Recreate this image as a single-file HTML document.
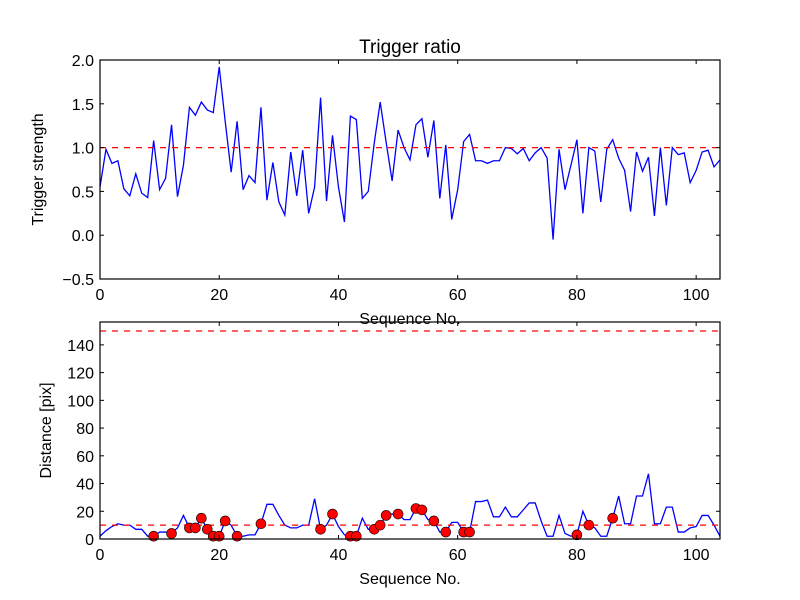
<!DOCTYPE html>
<html><head><meta charset="utf-8"><style>
body{margin:0;background:#fff}
svg{font-family:"Liberation Sans",sans-serif;display:block}
</style></head><body>
<svg id="c" width="800" height="600"></svg>
<script>
const seq = Array.from({length:105},(_,i)=>i);
const ratio = [0.55,0.98,0.82,0.85,0.53,0.45,0.70,0.48,0.43,1.08,0.52,0.65,1.26,0.44,0.80,1.46,1.37,1.52,1.43,1.40,1.92,1.30,0.72,1.30,0.52,0.68,0.60,1.46,0.40,0.83,0.38,0.23,0.95,0.45,0.97,0.25,0.55,1.57,0.39,1.14,0.55,0.15,1.36,1.32,0.42,0.50,1.05,1.52,1.06,0.62,1.20,1.00,0.86,1.26,1.33,0.89,1.31,0.42,1.03,0.18,0.52,1.07,1.15,0.85,0.85,0.82,0.85,0.85,1.00,0.99,0.93,0.99,0.85,0.94,1.00,0.88,-0.05,0.98,0.52,0.80,1.09,0.25,1.00,0.96,0.38,0.98,1.09,0.88,0.74,0.27,0.95,0.73,0.89,0.22,1.00,0.34,1.00,0.92,0.94,0.60,0.74,0.95,0.97,0.78,0.86];
const dist = [2,6,9,11,10,10,7,7,2,2,5,5,4,8,17,8,8,15,7,2,2,13,10,2,2,3,3,11,25,25,17,10,8,8,10,10,29,7,10,18,9,3,2,2,15,7,7,10,17,18,18,14,14,22,21,14,13,5,5,12,12,5,5,27,27,28,16,16,23,16,16,21,26,26,13,2,2,17,4,2,3,20,10,8,2,2,15,31,11,11,31,31,47,11,11,23,23,5,5,8,9,17,17,10,2];
const dotIdx = [9,12,15,16,17,18,19,20,21,23,27,37,39,42,43,46,47,48,50,53,54,56,58,61,62,80,82,86];
const xTicks = [0,20,40,60,80,100];
const yTicksTop = [-0.5,0.0,0.5,1.0,1.5,2.0];
const yTicksBot = [0,20,40,60,80,100,120,140];
const ratioThreshold = 1.0;
const distThresholds = [150,10];

const NS="http://www.w3.org/2000/svg";
const svg=document.getElementById('c');
function el(t,a,p){const e=document.createElementNS(NS,t);for(const k in a)e.setAttribute(k,a[k]);(p||svg).appendChild(e);return e;}
const L=100,R=720;
const xs=v=>L+(v-0)/(104-0)*(R-L);
const ysT=v=>279+(v-(-0.5))/(2.5)*(60-279);
const ysB=v=>539-(v/156.5)*(539-322);

function axes(name){
  const g=el('g',{});
  
  
  return g;
}
function frame(g,top,bot,ys,yt,fmt,ylabel){
  const f=el('rect',{x:L,y:top,width:R-L,height:bot-top,fill:'none',stroke:'#000','stroke-width':1.2},g);
  
  
  xTicks.forEach(t=>{
    const x=xs(t);
    el('line',{x1:x,x2:x,y1:bot,y2:bot-4,stroke:'#000'},g);
    el('line',{x1:x,x2:x,y1:top,y2:top+4,stroke:'#000'},g);
    const tx=el('text',{x:x,y:bot+21,'font-size':16,'text-anchor':'middle'},g);
    tx.textContent=t;
    
    
  });
  yt.forEach(t=>{
    const y=ys(t);
    el('line',{x1:L,x2:L+4,y1:y,y2:y,stroke:'#000'},g);
    el('line',{x1:R,x2:R-4,y1:y,y2:y,stroke:'#000'},g);
    const ty=el('text',{x:L-6,y:y+6,'font-size':16,'text-anchor':'end'},g);
    ty.textContent=fmt(t);
    
    
  });
  const xl=el('text',{x:(L+R)/2,y:bot+45,'font-size':16,'text-anchor':'middle'},g);
  xl.textContent='Sequence No.';
  
  
  const yl=el('text',{x:0,y:0,'font-size':16,'text-anchor':'middle',transform:`translate(${ylabel[1]},${(top+bot)/2}) rotate(-90)`},g);
  yl.textContent=ylabel[0];
  
  
}
// top
const gT=axes('top-chart');
const tt=el('text',{x:(L+R)/2,y:53,'font-size':19,'text-anchor':'middle'},gT);
tt.textContent='Trigger ratio';


const pT=el('polyline',{points:seq.map((s,i)=>xs(s)+','+ysT(ratio[i])).join(' '),fill:'none',stroke:'blue','stroke-width':1.3},gT);


const hl=el('line',{x1:L,x2:R,y1:ysT(ratioThreshold),y2:ysT(ratioThreshold),stroke:'red','stroke-width':1.3,'stroke-dasharray':'6,6'},gT);


frame(gT,60,279,ysT,yTicksTop,v=>v.toFixed(1).replace('-','\u2212'),['Trigger strength',43]);
// bottom
const gB=axes('bottom-chart');
const pB=el('polyline',{points:seq.map((s,i)=>xs(s)+','+ysB(dist[i])).join(' '),fill:'none',stroke:'blue','stroke-width':1.3},gB);


distThresholds.forEach(d=>{
  const l=el('line',{x1:L,x2:R,y1:ysB(d),y2:ysB(d),stroke:'red','stroke-width':1.3,'stroke-dasharray':'6,6'},gB);
  
  
});
dotIdx.forEach(i=>{
  const c=el('circle',{cx:xs(seq[i]),cy:ysB(dist[i]),r:5,fill:'red',stroke:'#000','stroke-width':0.6},gB);
  
  
});
frame(gB,322,539,ysB,yTicksBot,v=>String(v),['Distance [pix]',51]);
</script>
</body></html>
